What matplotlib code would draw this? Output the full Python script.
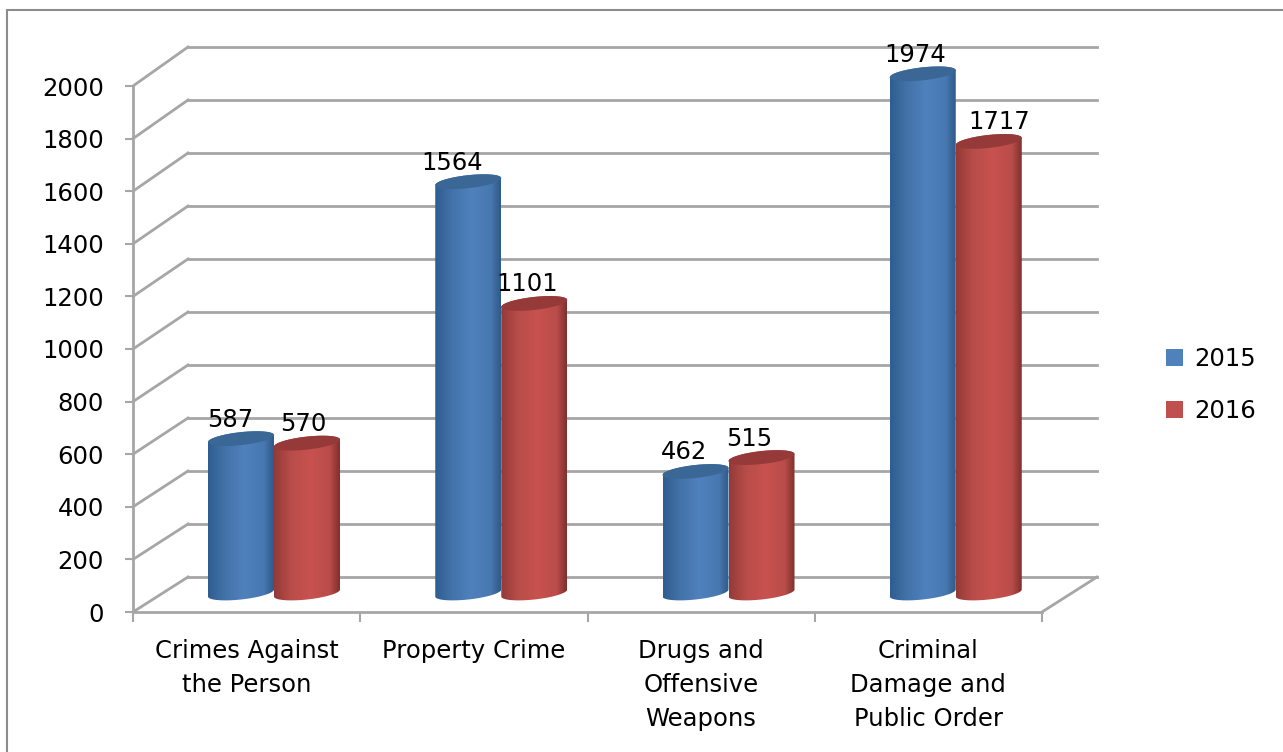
import numpy as np
import matplotlib
matplotlib.use('Agg')
import matplotlib.pyplot as plt
from matplotlib.colors import LinearSegmentedColormap
from matplotlib.patches import PathPatch, Patch, Rectangle
from matplotlib.path import Path

categories = ['Crimes Against\nthe Person', 'Property Crime',
              'Drugs and\nOffensive\nWeapons', 'Criminal\nDamage and\nPublic Order']
years = ['2015', '2016']
values_2015 = [587, 1564, 462, 1974]
values_2016 = [570, 1101, 515, 1717]
y_ticks = [0, 200, 400, 600, 800, 1000, 1200, 1400, 1600, 1800, 2000]

W, H = 1283, 752
FS = 17.5
plt.rcParams['font.family'] = ['DejaVu Sans']
fig = plt.figure(figsize=(W / 100, H / 100), dpi=100)
ax = fig.add_axes([133 / W, 1 - 612 / H, 909 / W, 526 / H])
ax.set_xlim(0, 4)
ax.set_ylim(0, 2000)
ax.set_autoscale_on(False)

# size of one pixel in data units
PX = 4 / 909
PY = 2000 / 526
GRID = '#a6a6a6'

# outer frame of the picture
fig.add_artist(Rectangle((7 / W, -0.1), 1.1, 1 - 10 / H + 0.1, transform=fig.transFigure,
                         fill=False, ec='#8c8c8c', lw=1.5))

# 3d wall and floor
for v in y_ticks:
    back = 35 * PY + v * 1.0076
    ax.plot([55 * PX, 4 + 55 * PX], [back, back], color=GRID, lw=2, clip_on=False, zorder=1)
    ax.plot([0, 55 * PX], [v, back], color=GRID, lw=2, clip_on=False, zorder=1)
ax.plot([4, 4 + 55 * PX], [0, 35 * PY], color=GRID, lw=2, clip_on=False, zorder=1)

blue_cmap = LinearSegmentedColormap.from_list(
    'b', [(0, '#2f5d90'), (0.25, '#4272a8'), (0.55, '#4f81bd'), (0.85, '#4778b0'), (1, '#2f5a8a')])
red_cmap = LinearSegmentedColormap.from_list(
    'r', [(0, '#933a38'), (0.25, '#b84c49'), (0.55, '#c8524f'), (0.85, '#b94c49'), (1, '#7f302e')])
shade = np.linspace(0, 1, 128).reshape(1, -1)


def cylinder(left, value, cmap, cap):
    a, b, s = 33, 6.5, 3.5
    base_y = 19 * PY
    top_y = base_y + value
    cx = left + a * PX
    t = np.linspace(np.pi, 2 * np.pi, 40)
    lower = np.c_[cx + a * PX * np.cos(t), base_y + (b * np.sin(t) + s * np.cos(t)) * PY]
    t2 = np.linspace(0, np.pi, 40)
    upper = np.c_[cx + a * PX * np.cos(t2), top_y + (b * np.sin(t2) + s * np.cos(t2)) * PY]
    body = PathPatch(Path(np.r_[lower, upper, lower[:1]]), transform=ax.transData, fc='none', ec='none')
    ax.add_patch(body)
    im = ax.imshow(shade, cmap=cmap, aspect='auto', interpolation='bilinear', zorder=3,
                   extent=(left, left + 2 * a * PX, base_y - 20 * PY, top_y + 20 * PY))
    im.set_clip_box(fig.bbox)
    im.set_clip_path(body)
    t3 = np.linspace(0, 2 * np.pi, 80)
    top = np.c_[cx + a * PX * np.cos(t3), top_y + (b * np.sin(t3) + s * np.cos(t3)) * PY]
    ax.add_patch(PathPatch(Path(top), fc=cap, ec='none', zorder=4, clip_on=False))


label_dx = [[-11, -4], [-16, -7], [-11, -12], [-8, 10]]
for i in range(len(categories)):
    left = i + 75 * PX
    right = left + 66 * PX
    cylinder(left, values_2015[i], blue_cmap, '#3b6796')
    cylinder(right, values_2016[i], red_cmap, '#953a38')
    for j, (x0, v) in enumerate([(left, values_2015[i]), (right, values_2016[i])]):
        ax.annotate(str(v), (x0 + 33 * PX, v + 19 * PY), xytext=(label_dx[i][j] * 0.72, 19 * 0.72),
                    textcoords='offset points', ha='center', va='center', fontsize=FS,
                    color='black', zorder=6, annotation_clip=False)

for side in ['top', 'right']:
    ax.spines[side].set_visible(False)
for side in ['left', 'bottom']:
    ax.spines[side].set_color(GRID)
    ax.spines[side].set_linewidth(2)
ax.patch.set_alpha(0)
ax.set_yticks(y_ticks)
ax.set_xticks(range(5))
ax.set_xticklabels([])
ax.tick_params(axis='y', length=6, width=1.5, color=GRID, labelsize=FS, pad=15)
ax.tick_params(axis='x', length=7, width=1.5, color=GRID)

for i, c in enumerate(categories):
    ax.text(i + 0.5, -27 * PY, c, ha='center', va='top', fontsize=FS, linespacing=1.53, color='black',
            clip_on=False)

handles = [Patch(fc='#4f81bd', ec='none', label=years[0]), Patch(fc='#c0504d', ec='none', label=years[1])]
fig.legend(handles=handles, loc='center left', bbox_to_anchor=(1144 / W, 1 - 385 / H), frameon=False,
           fontsize=FS, handlelength=0.7, handleheight=0.7, handletextpad=0.45, labelspacing=1.15)

fig.savefig('out.png', dpi=100)
